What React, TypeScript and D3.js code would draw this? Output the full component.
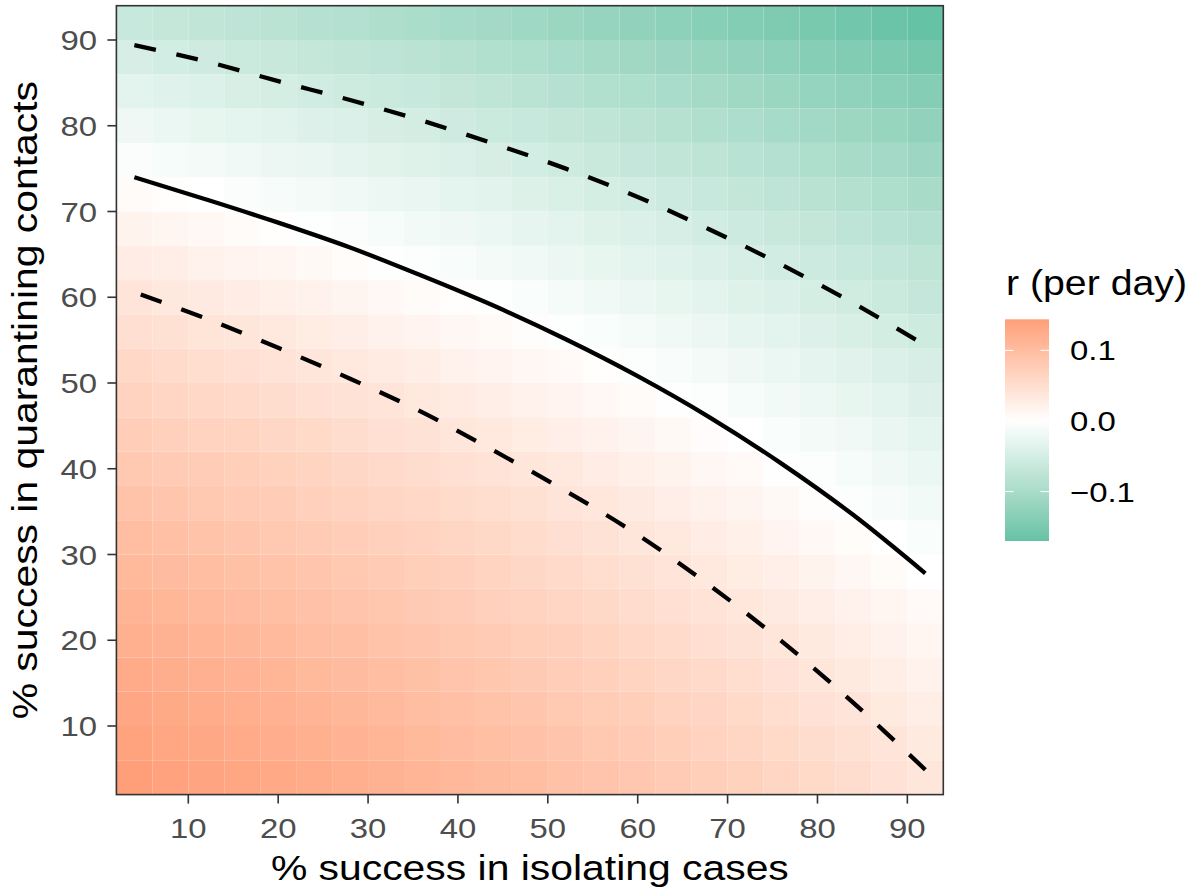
import React from "react";
import * as d3 from "d3";

// ---------- data ----------
// tile centres (% success)
const isolationPct = [4, 8, 12, 16, 20, 24, 28, 32, 36, 40, 44, 48, 52, 56, 60, 64, 68, 72, 76, 80, 84, 88, 92];
const quarantinePct = [4, 8, 12, 16, 20, 24, 28, 32, 36, 40, 44, 48, 52, 56, 60, 64, 68, 72, 76, 80, 84, 88, 92];

// growth rate r (per day) x 1000; one row per quarantine level (4 -> 92), one column per isolation level (4 -> 92)
const rMilli: number[][] = [
  [144, 140, 136, 133, 129, 125, 120, 116, 112, 107, 103, 98, 93, 89, 84, 78, 73, 68, 62, 56, 51, 44, 38],
  [138, 134, 131, 127, 123, 119, 114, 110, 106, 101, 97, 92, 88, 83, 78, 73, 67, 62, 56, 51, 45, 39, 32],
  [132, 128, 124, 121, 117, 113, 108, 104, 100, 95, 91, 86, 81, 77, 72, 66, 61, 56, 50, 44, 39, 32, 26],
  [126, 122, 118, 114, 110, 106, 102, 98, 94, 89, 85, 80, 75, 70, 65, 60, 55, 50, 44, 38, 32, 26, 20],
  [119, 116, 112, 108, 104, 100, 96, 91, 87, 83, 78, 73, 69, 64, 59, 54, 48, 43, 37, 32, 26, 20, 13],
  [113, 109, 105, 101, 97, 93, 89, 85, 80, 76, 71, 67, 62, 57, 52, 47, 42, 36, 31, 25, 19, 13, 7],
  [106, 102, 98, 94, 90, 86, 82, 78, 73, 69, 64, 60, 55, 50, 45, 40, 35, 29, 24, 18, 12, 6, 0],
  [98, 95, 91, 87, 83, 79, 75, 71, 66, 62, 57, 53, 48, 43, 38, 33, 28, 22, 17, 11, 5, -1, -7],
  [91, 87, 83, 79, 76, 71, 67, 63, 59, 54, 50, 45, 40, 36, 31, 25, 20, 15, 9, 3, -3, -9, -15],
  [83, 79, 76, 72, 68, 64, 60, 55, 51, 47, 42, 37, 33, 28, 23, 18, 12, 7, 1, -4, -10, -16, -23],
  [75, 71, 67, 64, 60, 56, 51, 47, 43, 38, 34, 29, 24, 20, 15, 9, 4, -1, -7, -13, -18, -25, -31],
  [67, 63, 59, 55, 51, 47, 43, 39, 34, 30, 25, 21, 16, 11, 6, 1, -4, -10, -15, -21, -27, -33, -39],
  [58, 54, 50, 46, 42, 38, 34, 30, 26, 21, 17, 12, 7, 2, -3, -8, -13, -19, -24, -30, -36, -42, -48],
  [48, 45, 41, 37, 33, 29, 25, 21, 16, 12, 7, 3, -2, -7, -12, -17, -22, -28, -33, -39, -45, -51, -57],
  [39, 35, 31, 27, 23, 19, 15, 11, 6, 2, -2, -7, -12, -17, -22, -27, -32, -38, -43, -49, -55, -61, -67],
  [28, 25, 21, 17, 13, 9, 5, 1, -4, -8, -13, -17, -22, -27, -32, -37, -42, -48, -53, -59, -65, -71, -77],
  [18, 14, 10, 6, 2, -2, -6, -10, -15, -19, -24, -28, -33, -38, -43, -48, -53, -59, -64, -70, -76, -82, -88],
  [6, 2, -1, -5, -9, -13, -18, -22, -26, -31, -35, -40, -44, -49, -54, -59, -65, -70, -76, -81, -87, -94, -100],
  [-6, -10, -14, -18, -22, -26, -30, -34, -38, -43, -47, -52, -57, -62, -67, -72, -77, -82, -88, -94, -100, -106, -112],
  [-19, -23, -27, -31, -35, -39, -43, -47, -51, -56, -60, -65, -70, -75, -80, -85, -90, -95, -101, -107, -113, -119, -125],
  [-33, -37, -41, -45, -49, -53, -57, -61, -65, -70, -74, -79, -84, -89, -94, -99, -104, -109, -115, -121, -127, -133, -139],
  [-48, -52, -56, -60, -64, -68, -72, -76, -80, -85, -89, -94, -99, -104, -109, -114, -119, -124, -130, -136, -142, -148, -154],
  [-65, -68, -72, -76, -80, -84, -88, -92, -97, -101, -106, -110, -115, -120, -125, -130, -135, -141, -146, -152, -158, -164, -170],
];

// threshold curves (r = 0)
const curveX = [4, 12, 20, 28, 36, 44, 52, 60, 68, 76, 84, 92];
const solidY = [74.0, 71.4, 68.7, 65.8, 62.5, 59.0, 55.1, 50.8, 46.0, 40.6, 34.6, 27.8];
const upperDashY = [89.4, 87.5, 85.2, 83.0, 80.6, 77.9, 75.0, 71.7, 67.9, 63.8, 59.3, 54.4];
const lowerDashY = [60.6, 57.5, 54.1, 50.5, 46.6, 42.1, 37.4, 32.3, 26.4, 19.9, 12.7, 4.9];

const axisTicks = [10, 20, 30, 40, 50, 60, 70, 80, 90];
const legendTicks = [0.1, 0.0, -0.1];
const legendLabels = ["0.1", "0.0", "\u22120.1"];

const xTitle = "% success in isolating cases";
const yTitle = "% success in quarantining contacts";
const legendTitle = "r (per day)";

// ---------- styling ----------
const W = 1199;
const H = 894;
const LOW = "#66C2A5";
const HIGH = "#FC8D62";
const FONT = "'Liberation Sans', Arial, Helvetica, sans-serif";

function SText(props: {
  x: number; y: number; rotate?: number; anchor?: string; size: number; stretch: number; fill: string; children: React.ReactNode;
}) {
  const { x, y, rotate = 0, anchor = "start", size, stretch, fill, children } = props;
  return (
    <text
      transform={`translate(${x},${y}) rotate(${rotate}) scale(${stretch},1)`}
      textAnchor={anchor as any}
      fontSize={size}
      fill={fill}
      fontFamily={FONT}
    >
      {children}
    </text>
  );
}

export default function App() {
  const values = rMilli.flat().map((v) => v / 1000);
  const rMin = d3.min(values) as number;
  const rMax = d3.max(values) as number;
  const maxAbs = d3.max(values, (v) => Math.abs(v)) as number;

  const toLow = d3.interpolateLab("#ffffff", LOW);
  const toHigh = d3.interpolateLab("#ffffff", HIGH);
  const colour = (v: number) => (v >= 0 ? toHigh(v / maxAbs) : toLow(-v / maxAbs));

  const step = isolationPct[1] - isolationPct[0];
  const xDom = [isolationPct[0] - step / 2, isolationPct[isolationPct.length - 1] + step / 2];
  const yDom = [quarantinePct[0] - step / 2, quarantinePct[quarantinePct.length - 1] + step / 2];

  const panel = { left: 116.4, right: 943.3, top: 5.7, bottom: 794.6 };
  const xs = d3.scaleLinear().domain(xDom).range([panel.left, panel.right]);
  const ys = d3.scaleLinear().domain(yDom).range([panel.bottom, panel.top]);

  const tiles: React.ReactNode[] = [];
  rMilli.forEach((row, j) => {
    const yc = quarantinePct[j];
    row.forEach((v, i) => {
      const xc = isolationPct[i];
      const x0 = xs(xc - step / 2);
      const x1 = xs(xc + step / 2);
      const y0 = ys(yc + step / 2);
      const y1 = ys(yc - step / 2);
      tiles.push(
        <rect key={`${i}-${j}`} x={x0} y={y0} width={x1 - x0} height={y1 - y0} fill={colour(v / 1000)} />
      );
    });
  });

  const line = d3
    .line<[number, number]>()
    .x((d) => xs(d[0]))
    .y((d) => ys(d[1]))
    .curve(d3.curveMonotoneX);

  const solidPath = line(curveX.map((x, i) => [x, solidY[i]] as [number, number])) || "";
  const upperPath = line(curveX.map((x, i) => [x, upperDashY[i]] as [number, number])) || "";
  const lowerPath =
    d3
      .line<[number, number]>()
      .x((d) => xs(d[0]))
      .y((d) => ys(d[1]))
      .curve(d3.curveCatmullRom.alpha(0.5))(
        curveX.map((x, i) => [x, lowerDashY[i]] as [number, number]).reverse()
      ) || "";

  // legend
  const bar = { left: 1005, right: 1049, top: 319.3, bottom: 541 };
  const ls = d3.scaleLinear().domain([rMin, rMax]).range([bar.bottom, bar.top]);
  const nStops = 40;
  const stops = d3.range(nStops + 1).map((k) => {
    const v = rMax - ((rMax - rMin) * k) / nStops;
    return { offset: k / nStops, color: colour(v) };
  });

  const tickCol = "#333333";
  const labCol = "#4D4D4D";
  const TICK_SIZE = 28;
  const TICK_STRETCH = 1.175;
  const TITLE_SIZE = 34.5;
  const TITLE_STRETCH = 1.185;

  return (
    <svg
      width={W}
      height={H}
      viewBox={`0 0 ${W} ${H}`}
      style={{ position: "fixed", left: 0, top: 0, background: "#ffffff" }}
    >
      <rect x={0} y={0} width={W} height={H} fill="#ffffff" />
      <g>{tiles}</g>

      <path d={upperPath} fill="none" stroke="#000" strokeWidth={4.3} strokeDasharray="22 21" />
      <path d={lowerPath} fill="none" stroke="#000" strokeWidth={4.3} strokeDasharray="22 21" />
      <path d={solidPath} fill="none" stroke="#000" strokeWidth={4.3} />

      <rect
        x={panel.left}
        y={panel.top}
        width={panel.right - panel.left}
        height={panel.bottom - panel.top}
        fill="none"
        stroke={tickCol}
        strokeWidth={1.6}
      />

      {/* x axis */}
      {axisTicks.map((t) => (
        <g key={`xt${t}`}>
          <line x1={xs(t)} x2={xs(t)} y1={panel.bottom} y2={panel.bottom + 9} stroke={tickCol} strokeWidth={1.6} />
          <SText x={xs(t)} y={panel.bottom + 43} anchor="middle" size={TICK_SIZE} stretch={TICK_STRETCH} fill={labCol}>
            {String(t)}
          </SText>
        </g>
      ))}
      {/* y axis */}
      {axisTicks.map((t) => (
        <g key={`yt${t}`}>
          <line x1={panel.left - 9} x2={panel.left} y1={ys(t)} y2={ys(t)} stroke={tickCol} strokeWidth={1.6} />
          <SText x={97} y={ys(t) + 10} anchor="end" size={TICK_SIZE} stretch={TICK_STRETCH} fill={labCol}>
            {String(t)}
          </SText>
        </g>
      ))}

      <SText x={(panel.left + panel.right) / 2} y={880} anchor="middle" size={TITLE_SIZE} stretch={TITLE_STRETCH} fill="#000">
        {xTitle}
      </SText>
      <SText x={37} y={(panel.top + panel.bottom) / 2} rotate={-90} anchor="middle" size={TITLE_SIZE} stretch={TITLE_STRETCH} fill="#000">
        {yTitle}
      </SText>

      {/* legend */}
      <SText x={1006} y={295} size={TITLE_SIZE} stretch={TITLE_STRETCH * 0.96} fill="#000">
        {legendTitle}
      </SText>
      <defs>
        <linearGradient id="rgrad" x1="0" y1="0" x2="0" y2="1">
          {stops.map((s, k) => (
            <stop key={k} offset={s.offset} stopColor={s.color} />
          ))}
        </linearGradient>
      </defs>
      <rect x={bar.left} y={bar.top} width={bar.right - bar.left} height={bar.bottom - bar.top} fill="url(#rgrad)" />
      {legendTicks.map((t, k) => (
        <g key={`lt${k}`}>
          <line x1={bar.left} x2={bar.left + 8.5} y1={ls(t)} y2={ls(t)} stroke="#ffffff" strokeWidth={1} />
          <line x1={bar.right - 8.5} x2={bar.right} y1={ls(t)} y2={ls(t)} stroke="#ffffff" strokeWidth={1} />
          <SText x={1070} y={ls(t) + 10} size={TICK_SIZE} stretch={TICK_STRETCH} fill="#000">
            {legendLabels[k]}
          </SText>
        </g>
      ))}
    </svg>
  );
}
